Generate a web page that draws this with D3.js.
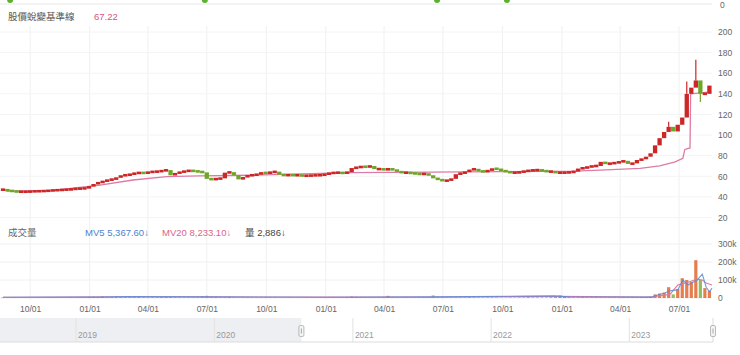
<!DOCTYPE html>
<html><head><meta charset="utf-8">
<script src="https://cdn.jsdelivr.net/npm/d3@7"></script>
<style>
body{margin:0;background:#fff;}
svg{display:block;font-family:"Liberation Sans",Arial,"Noto Sans CJK TC",sans-serif;}
</style>
</head><body>
<svg id="c" width="740" height="355"></svg>
<script>
// ---------------- DATA ----------------
// weekly samples starting 2020-08-20
const startDate = new Date(2020, 7, 20);
const closes = [
  47,46,45.5,45,45,45,45.3,45.5,45.5,45.8,
  46,46.5,46.5,47,47,47.5,48,48,48.5,50,
  52.5,54,55,56.5,57,58.5,61,61,62,63,
  63.5,63,64,64.5,64.5,65.5,66,61,63,64,
  65,65.5,65,64.5,63.8,57.5,57,57.5,58,63.5,
  64,61,57,59,61,61,62,63.5,63,64,
  64.5,61.5,61,61.2,61,61,60.5,60.5,60.8,61,
  61,62,63,63.5,63.5,63,64,68,68.5,69.5,
  69,70,67,67,66.5,67,66.5,64.5,63.5,63.5,
  63,62.5,62,62.5,61,58,57,55.5,56,57.5,
  62,63,64,66.5,67,65,64.5,65.5,67.5,67,
  65.5,64.5,63.5,63.5,64,65,65.5,66,66,65.5,
  64.5,64.5,63.5,63.5,63.5,64,64.5,67.5,68,69,
  70,70,74,72,72.5,73,74,75,72,72.5,
  75.8,76.5,79,82.3,90,97,103,108,103.5,110,
  117,140,146,153,140,140,148
];
const highIdx = [147, 151, 153];
const highVal = [113, 152, 173];
const lowIdx = [154];
const lowVal = [132];

const volumes = [
  3,2,2,2,2,2,2,2,2,2, 3,2,2,2,2,3,2,3,4,5,
  6,5,8,4,5,6,5,4,4,4, 5,4,3,4,4,5,6,7,4,3,
  3,3,3,4,8,12,6,5,3,4, 6,4,3,3,3,3,3,3,4,3,
  3,2,2,3,2,2,2,2,3,2, 3,3,3,3,2,3,5,8,6,4,
  3,3,3,3,5,12,4,3,2,3, 2,3,3,4,5,14,6,4,3,3,
  3,3,3,4,3,3,3,3,3,3, 2,2,3,2,3,3,4,3,3,3,
  3,4,8,14,9,4,3,3,4,3, 3,4,3,3,3,3,3,4,3,4,
  4,5,6,8,20,25,30,60,20,50, 110,100,90,210,100,55,40
];

const baseDates = ["2020-08-20","2020-08-27","2020-11-01","2021-01-17","2021-03-09","2021-04-30","2021-06-20","2021-09-06","2022-02-07","2022-06-11","2022-09-27","2023-01-21","2023-03-01","2023-05-02","2023-06-01","2023-06-25","2023-07-07","2023-07-10","2023-07-18","2023-07-19","2023-08-20"];
const baseValues = [47.4,45.5,46,51.5,56.4,59.6,60.3,61,63.5,64,64.5,65,66,67.7,70,74,77.5,86,87.5,140,142];

const mv5Dates = ["2020-08-20","2021-01-15","2021-03-01","2021-07-01","2022-01-01","2022-06-15","2022-12-20","2023-01-10","2023-05-20","2023-05-28","2023-06-09","2023-06-17","2023-06-29","2023-07-07","2023-07-15","2023-07-21","2023-07-29","2023-08-06","2023-08-12","2023-08-17","2023-08-21"];
const mv5Values = [4,5,8,6,4,6,12,6,5,15,28,40,45,100,72,85,100,133,60,35,55];
const mv20Dates = ["2020-08-20","2021-03-01","2021-07-01","2022-06-15","2022-12-20","2023-05-20","2023-05-28","2023-06-17","2023-06-29","2023-07-15","2023-07-29","2023-08-06","2023-08-12","2023-08-21"];
const mv20Values = [4,6,6,5,9,5,10,20,72,88,105,100,83,72];

const signalDates = ["2020-08-31","2021-06-28","2022-06-22","2022-10-08"];
const priceTicks = [20,40,60,80,100,120,140,160,180,200];
const volTicks = [0,100,200,300];
const yearLabels = ["2019","2020","2021","2022","2023"];

const legendTitle = "股價蛻變基準線";
const legendValue = "67.22";
const volTitle = "成交量";
const mv5Text = "MV5 5,367.60↓";
const mv20Text = "MV20 8,233.10↓";
const volText = "量 2,886↓";

// ---------------- DRAW ----------------
const parse = d3.timeParse("%Y-%m-%d");
const svg = d3.select("#c");
const x = d3.scaleTime().domain([new Date(2020,7,20), new Date(2023,7,21)]).range([3,712]);
const yP = d3.scaleLinear().domain([20,200]).range([217.5,32]);
const yV = d3.scaleLinear().domain([0,300]).range([298,244]);
const dates = closes.map((_, i) => d3.timeDay.offset(startDate, 7*i));
const opens = closes.map((c, i) => i === 0 ? c : closes[i-1]);

const RED = "#cc2727", GREEN = "#6fa62a", PINK = "#de7ba5", BLUE = "#5b8ad6";

// top strip
svg.append("line").attr("x1",0).attr("x2",712).attr("y1",4).attr("y2",4).attr("stroke","#e6e6e6");
svg.append("text").attr("x",720).attr("y",5).attr("dy","0.35em").attr("font-size",8.5).attr("fill","#666").text("0");
svg.selectAll("circle.sig").data(signalDates).join("circle")
  .attr("cx", d => x(parse(d))).attr("cy", 0).attr("r", 3).attr("fill", "#5cb030");

// grids
const qTicks = d3.timeMonth.every(3).range(x.domain()[0], x.domain()[1]);
svg.append("g").selectAll("line").data(qTicks).join("line")
  .attr("x1", d => x(d)).attr("x2", d => x(d)).attr("y1", 26).attr("y2", 300)
  .attr("stroke", "#f0f0f0");
svg.append("g").selectAll("line").data(priceTicks).join("line")
  .attr("x1", 0).attr("x2", 712).attr("y1", d => yP(d)).attr("y2", d => yP(d))
  .attr("stroke", "#f4f4f4");
svg.append("g").selectAll("line").data(volTicks).join("line")
  .attr("x1", 0).attr("x2", 712).attr("y1", d => yV(d)).attr("y2", d => yV(d))
  .attr("stroke", "#f0f0f0");

// axes
const gy = svg.append("g").attr("transform","translate(716,0)")
  .call(d3.axisRight(yP).tickValues(priceTicks).tickSize(0).tickPadding(2));
gy.select(".domain").remove();
gy.selectAll("text").attr("font-size",8.5).attr("fill","#666").attr("font-family",null);

const gv = svg.append("g").attr("transform","translate(716,0)")
  .call(d3.axisRight(yV).tickValues(volTicks).tickSize(0).tickPadding(2)
    .tickFormat(d => d === 0 ? "0" : d + "k"));
gv.select(".domain").remove();
gv.selectAll("text").attr("font-size",8.5).attr("fill","#666").attr("font-family",null);

const gx = svg.append("g").attr("transform","translate(0,303)")
  .call(d3.axisBottom(x).tickValues(qTicks).tickFormat(d3.timeFormat("%m/%d")).tickSize(0).tickPadding(3));
gx.select(".domain").remove();
gx.selectAll("text").attr("font-size",8.5).attr("fill","#666").attr("font-family",null);

// baseline
svg.append("path")
  .datum(baseDates.map((d,i) => [parse(d), baseValues[i]]))
  .attr("fill","none").attr("stroke",PINK).attr("stroke-width",1.3)
  .attr("d", d3.line().x(d => x(d[0])).y(d => yP(d[1])));

// candles
const cw = 4.3;
const gc = svg.append("g");
closes.forEach((c, i) => {
  const o = opens[i];
  const col = c >= o ? RED : GREEN;
  const hi = highIdx.indexOf(i) >= 0 ? highVal[highIdx.indexOf(i)] : null;
  const lo = lowIdx.indexOf(i) >= 0 ? lowVal[lowIdx.indexOf(i)] : null;
  const cx = x(dates[i]);
  if (hi !== null) gc.append("line").attr("x1",cx).attr("x2",cx).attr("y1",yP(hi)).attr("y2",yP(Math.max(o,c))).attr("stroke",col).attr("stroke-width",1.2);
  if (lo !== null) gc.append("line").attr("x1",cx).attr("x2",cx).attr("y1",yP(lo)).attr("y2",yP(Math.min(o,c))).attr("stroke",col).attr("stroke-width",1.2);
  const top = yP(Math.max(o,c)), bot = yP(Math.min(o,c));
  const h = Math.max(2.6, bot - top);
  gc.append("rect").attr("x", cx - cw/2).attr("y", (top+bot)/2 - h/2)
    .attr("width", cw).attr("height", h).attr("fill", col);
});

// volume bars
svg.append("g").selectAll("rect").data(volumes).join("rect")
  .attr("x", (d,i) => x(dates[i]) - 1.6).attr("width", 3.2)
  .attr("y", d => yV(d)).attr("height", d => yV(0) - yV(d))
  .attr("fill", (d,i) => closes[i] >= opens[i] ? "#e0662f" : "#7cb342")
  .attr("opacity", 0.85);

// MV lines
const vline = d3.line().x(d => x(d[0])).y(d => yV(d[1]));
svg.append("path").datum(mv20Dates.map((d,i) => [parse(d), mv20Values[i]]))
  .attr("fill","none").attr("stroke",PINK).attr("stroke-width",1.1).attr("d", vline);
svg.append("path").datum(mv5Dates.map((d,i) => [parse(d), mv5Values[i]]))
  .attr("fill","none").attr("stroke",BLUE).attr("stroke-width",1.1).attr("opacity",0.85).attr("d", vline);

// legends
svg.append("text").attr("x",8).attr("y",20).attr("font-size",9.5).attr("fill","#555").text(legendTitle);
svg.append("text").attr("x",94).attr("y",20).attr("font-size",9.5).attr("fill","#d4557f").text(legendValue);
svg.append("text").attr("x",8).attr("y",236).attr("font-size",9.5).attr("fill","#666").text(volTitle);
svg.append("text").attr("x",85).attr("y",236).attr("font-size",9.5).attr("fill","#4f7fcf").text(mv5Text);
svg.append("text").attr("x",162).attr("y",236).attr("font-size",9.5).attr("fill","#d9648c").text(mv20Text);
svg.append("text").attr("x",245).attr("y",236).attr("font-size",9.5).attr("fill","#444").text(volText);

// navigator
const xN = d3.scaleTime().domain([new Date(2018,5,14), new Date(2023,7,10)]).range([0,713]);
const selStart = new Date(2020,7,18), selEnd = new Date(2023,7,10);
const nav = svg.append("g");
nav.append("rect").attr("x",0).attr("y",318).attr("width",xN(selStart)).attr("height",24).attr("fill","#edeff2");
nav.append("line").attr("x1",0).attr("x2",713).attr("y1",342).attr("y2",342).attr("stroke","#dcdcdc");
nav.selectAll("line.yr").data(yearLabels).join("line")
  .attr("x1", d => xN(new Date(+d,0,1))).attr("x2", d => xN(new Date(+d,0,1)))
  .attr("y1", 318).attr("y2", 342).attr("stroke", "#e2e2e2");
nav.selectAll("text.yr").data(yearLabels).join("text")
  .attr("x", d => xN(new Date(+d,0,1)) + 2).attr("y", 338)
  .attr("font-size", 8.5).attr("fill", "#999").text(d => d);
nav.append("line").attr("x1",xN(selEnd)).attr("x2",xN(selEnd)).attr("y1",318).attr("y2",342).attr("stroke","#dcdcdc");
[selStart, selEnd].forEach(d => {
  const hx = xN(d);
  nav.append("rect").attr("x", hx - 2.5).attr("y", 325.5).attr("width", 5).attr("height", 11)
    .attr("rx", 1.5).attr("fill", "#f4f4f4").attr("stroke", "#aaa").attr("stroke-width", 0.8);
  nav.append("line").attr("x1", hx).attr("x2", hx).attr("y1", 328.5).attr("y2", 333.5)
    .attr("stroke", "#999").attr("stroke-width", 0.8);
});
</script>
</body></html>
